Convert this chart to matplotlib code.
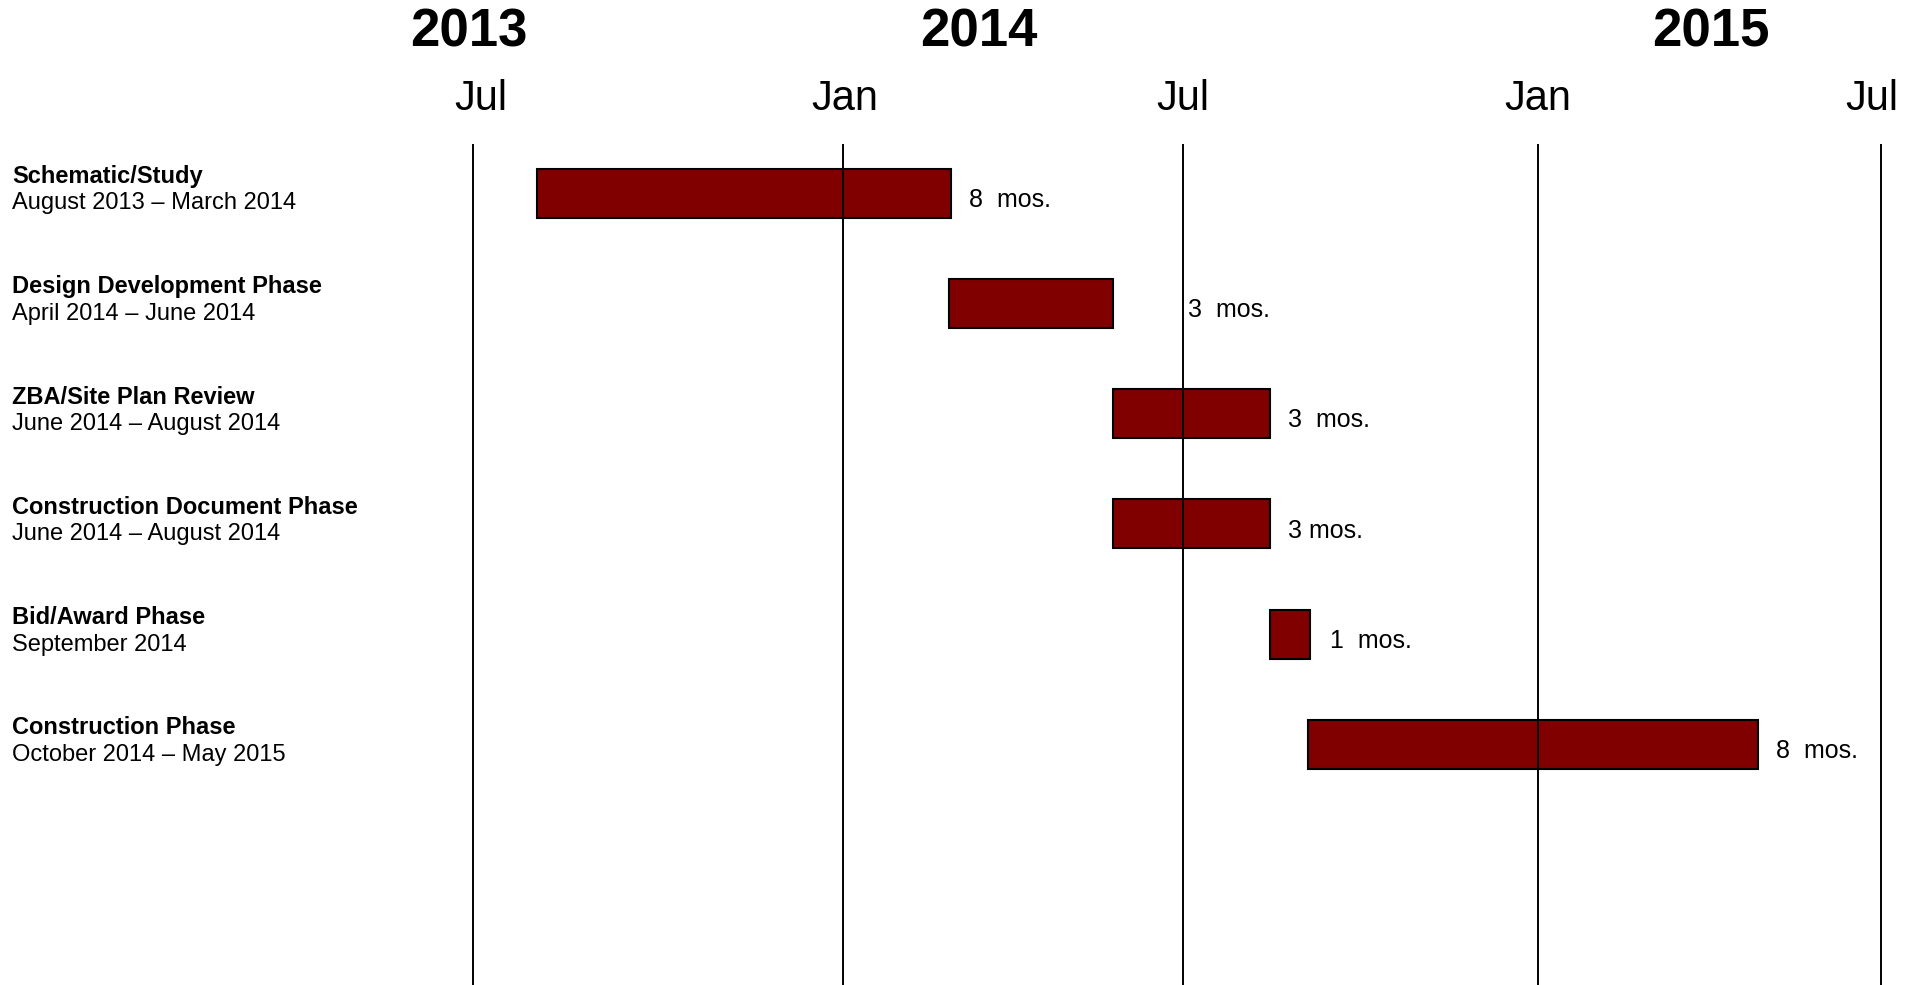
import pandas as pd
import matplotlib
matplotlib.use('Agg')
import matplotlib.pyplot as plt
import matplotlib.dates as mdates
import matplotlib.transforms as mtransforms

plt.rcParams['font.family'] = ['Liberation Sans', 'DejaVu Sans']

# --- Data ---
phases = ['Schematic/Study', 'Design Development Phase', 'ZBA/Site Plan Review',
          'Construction Document Phase', 'Bid/Award Phase', 'Construction Phase']
periods = ['August 2013 \u2013 March 2014', 'April 2014 \u2013 June 2014',
           'June 2014 \u2013 August 2014', 'June 2014 \u2013 August 2014',
           'September 2014', 'October 2014 \u2013 May 2015']
start_dates = ['2013-08-03', '2014-03-05', '2014-05-29', '2014-05-29', '2014-08-18', '2014-09-07']
end_dates = ['2014-03-06', '2014-05-29', '2014-08-18', '2014-08-18', '2014-09-08', '2015-04-28']
durations = ['8  mos.', '3  mos.', '3  mos.', '3 mos.', '1  mos.', '8  mos.']

# month lines as drawn in the chart (not exactly evenly spaced)
grid_dates = ['2013-07-01', '2014-01-09', '2014-07-04', '2015-01-04', '2015-07-01']
grid_labels = ['Jul', 'Jan', 'Jul', 'Jan', 'Jul']
label_dates = ['2013-07-05', '2014-01-10', '2014-07-04', '2015-01-04', '2015-06-26']
years = ['2013', '2014', '2015']
year_dates = ['2013-06-29', '2014-03-20', '2015-04-04']

# label offsets (points) to the right of each bar
label_offsets = [13, 54, 13, 13, 14, 13]

# --- Convert ---
starts = mdates.date2num(pd.to_datetime(start_dates))
ends = mdates.date2num(pd.to_datetime(end_dates))
grid_x = mdates.date2num(pd.to_datetime(grid_dates))
label_x = mdates.date2num(pd.to_datetime(label_dates))
year_x = mdates.date2num(pd.to_datetime(year_dates))
rows = list(range(len(phases)))

# --- Layout (figure pixels) ---
W, H = 1921, 985
top_px = 144
px_per_day = (1881 - 473) / (grid_x[-1] - grid_x[0])
row_px = 110.3
first_row_px = 193

fig = plt.figure(figsize=(W / 100, H / 100), dpi=100)
ax = fig.add_axes([0, 0, 1, 1 - top_px / H])
ax.set_xlim(grid_x[0] - 473 / px_per_day, grid_x[-1] + (W - 1881) / px_per_day)
ax.set_ylim((H - first_row_px) / row_px, (top_px - first_row_px) / row_px)
ax.axis('off')

# bars
ax.barh(rows, ends - starts, left=starts, height=49 / row_px,
        color='#800000', edgecolor='black', linewidth=1.5, zorder=2)

# vertical month lines drawn over the bars
for gx in grid_x:
    ax.axvline(gx, color='black', linewidth=1.4, zorder=3)

# duration labels
for r, e, txt, off in zip(rows, ends, durations, label_offsets):
    ax.annotate(txt, xy=(e, r + 0.06), xytext=(off, 0), textcoords='offset points',
                va='center', ha='left', fontsize=18)

# phase labels on the left
trans_left = mtransforms.blended_transform_factory(ax.transAxes, ax.transData)
for r, name, per in zip(rows, phases, periods):
    ax.text(12 / W, r - 0.15, name, transform=trans_left, fontsize=17,
            fontweight='bold', va='center', ha='left')
    ax.text(12 / W, r + 0.095, per, transform=trans_left, fontsize=17,
            va='center', ha='left')

# month and year labels above
ax_h = H - top_px
trans_top = mtransforms.blended_transform_factory(ax.transData, ax.transAxes)
for lx, lab in zip(label_x, grid_labels):
    ax.text(lx, 1 + (top_px - 99) / ax_h, lab, transform=trans_top,
            fontsize=30, ha='center', va='center', clip_on=False)
for yx, lab in zip(year_x, years):
    ax.text(yx, 1 + (top_px - 33) / ax_h, lab, transform=trans_top,
            fontsize=38, fontweight='bold', ha='center', va='center', clip_on=False)

fig.savefig('out.png', dpi=100, facecolor='white')
